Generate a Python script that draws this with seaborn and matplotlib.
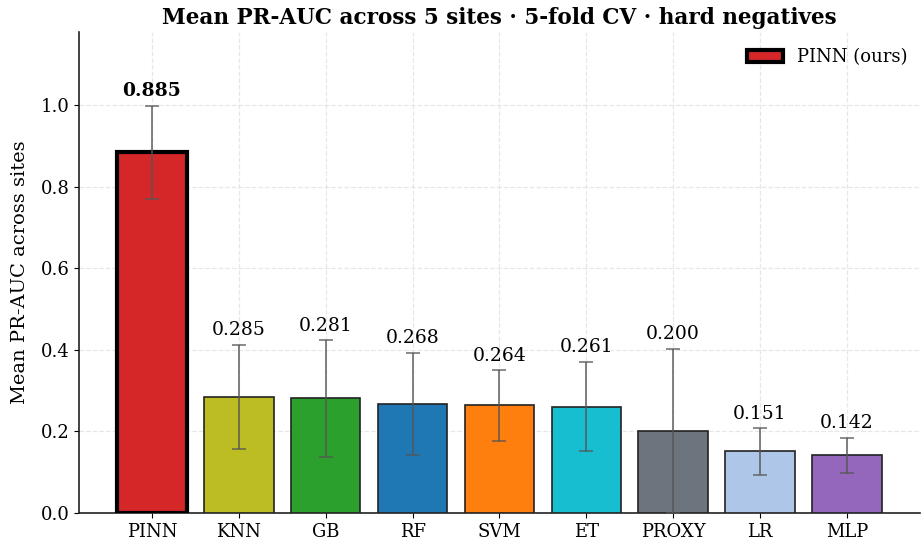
import matplotlib
matplotlib.use("Agg")
import matplotlib.pyplot as plt
import seaborn as sns
import numpy as np
import pandas as pd

models = ["PINN", "KNN", "GB", "RF", "SVM", "ET", "PROXY", "LR", "MLP"]
means = [0.885, 0.285, 0.281, 0.268, 0.264, 0.261, 0.200, 0.151, 0.142]
stds = [0.114, 0.128, 0.143, 0.125, 0.087, 0.110, 0.203, 0.057, 0.043]
colors = ["#d62728", "#bcbd22", "#2ca02c", "#1f77b4", "#ff7f0e",
          "#17becf", "#6c757d", "#aec7e8", "#9467bd"]

sns.set_style("ticks")
plt.rcParams["font.family"] = ["DejaVu Serif"]
plt.rcParams["text.color"] = "black"
plt.rcParams["axes.labelcolor"] = "black"
plt.rcParams["xtick.color"] = "black"
plt.rcParams["ytick.color"] = "black"

df = pd.DataFrame({"model": models, "mean": means})

fig = plt.figure(figsize=(9.22, 5.42), dpi=100)
ax = fig.add_axes([0.0857, 0.0535, 0.912, 0.8875])

sns.barplot(data=df, x="model", y="mean", hue="model", palette=colors,
            legend=False, ax=ax, width=0.8, edgecolor="#222222",
            linewidth=1.2, saturation=1, zorder=3)

patches = ax.patches
patches[0].set_edgecolor("black")
patches[0].set_linewidth(3)
patches[0].set_label("PINN (ours)")

x = np.arange(len(models))
m = np.array(means)
s = np.array(stds)
lower = np.minimum(s, m)
ax.errorbar(x, m, yerr=[lower, s], fmt="none", ecolor="#555555", alpha=0.8,
            capsize=5, elinewidth=1.3, capthick=1.2, zorder=4)

for i, (mv, sv) in enumerate(zip(means, stds)):
    ax.text(i, mv + sv + 0.013, f"{mv:.3f}", ha="center", va="bottom",
            fontsize=13.5, fontweight="bold" if i == 0 else "normal", zorder=5)

ax.set_ylim(0, 1.18)
ax.set_yticks([0.0, 0.2, 0.4, 0.6, 0.8, 1.0])
ax.set_xlabel("")
ax.set_ylabel("Mean PR-AUC across sites", fontsize=14, labelpad=8)
ax.set_title("Mean PR-AUC across 5 sites · 5-fold CV · hard negatives",
             fontsize=15.5, fontweight="bold", pad=6)
ax.tick_params(axis="both", labelsize=13)
ax.tick_params(axis="x", pad=3.5)
ax.grid(True, linestyle="--", color="#dddddd", alpha=0.7, linewidth=0.9, zorder=0)
ax.set_axisbelow(True)
sns.despine(ax=ax)
for sp in ["left", "bottom"]:
    ax.spines[sp].set_color("#222222")
    ax.spines[sp].set_linewidth(1.2)

ax.legend(handles=[patches[0]], loc="upper right", frameon=False, fontsize=13,
          bbox_to_anchor=(1.005, 1.0))

fig.savefig("out.png", dpi=100)
